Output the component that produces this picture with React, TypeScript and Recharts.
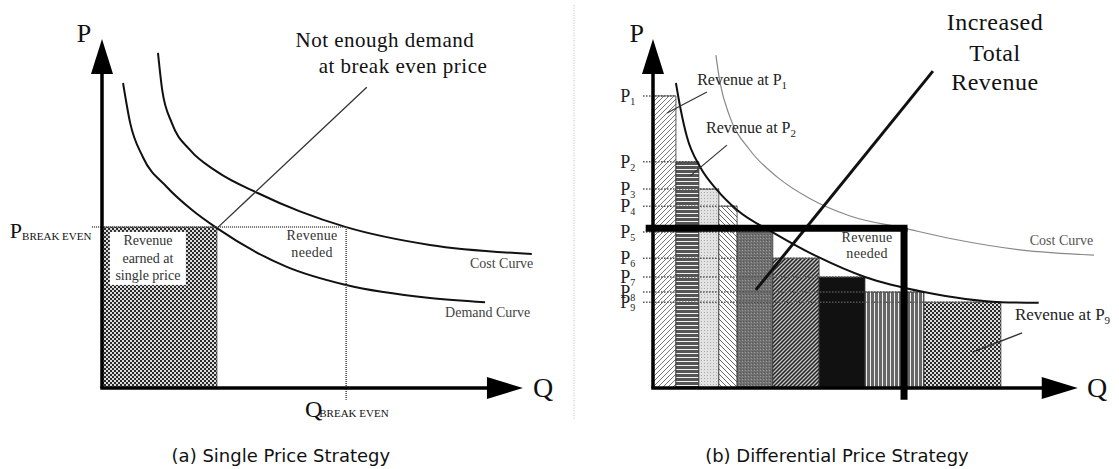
import React from 'react';
import {
  ComposedChart,
  Line,
  XAxis,
  YAxis,
  ReferenceArea,
  ReferenceLine,
  ReferenceDot,
} from 'recharts';

// ---- (a) single price strategy ----
const demandA = [
  { q: 5.0, p: 87.4 },
  { q: 6.7, p: 75.9 },
  { q: 9.7, p: 66.2 },
  { q: 15.4, p: 57.6 },
  { q: 21.4, p: 51.0 },
  { q: 27.3, p: 45.8 },
  { q: 43.9, p: 34.7 },
  { q: 58.0, p: 29.5 },
  { q: 77.9, p: 25.8 },
  { q: 91.0, p: 24.6 },
];
const costA = [
  { q: 13.3, p: 96.0 },
  { q: 14.3, p: 85.4 },
  { q: 16.6, p: 75.9 },
  { q: 20.9, p: 68.2 },
  { q: 27.3, p: 62.0 },
  { q: 37.1, p: 55.8 },
  { q: 47.0, p: 50.6 },
  { q: 58.0, p: 46.1 },
  { q: 77.9, p: 41.0 },
  { q: 102.1, p: 38.4 },
];
const breakEvenPrice = 46.1;
const singlePriceQty = 27.3;
const breakEvenQty = 58.0;

// ---- (b) differential price strategy ----
const stepQty = [0, 5.4, 10.8, 15.5, 19.8, 28.2, 39.1, 49.9, 63.8, 81.9];
const stepPrice = [83.7, 64.8, 57.0, 52.1, 44.7, 37.2, 31.8, 27.5, 24.6];
const stepLabels = ['1', '2', '3', '4', '5', '6', '7', '8', '9'];
const stepFills = [
  'url(#hatchUp)',
  'url(#hLines)',
  'url(#stipple)',
  'url(#hatchDown)',
  'url(#darkFine)',
  'url(#hatchDense)',
  '#111',
  'url(#vLines)',
  'url(#chk)',
];
const demandB = [
  { q: 5.4, p: 87.4 },
  { q: 6.4, p: 80.5 },
  { q: 8.0, p: 71.9 },
  { q: 11.1, p: 63.3 },
  { q: 15.1, p: 56.7 },
  { q: 19.8, p: 51.0 },
  { q: 28.5, p: 44.4 },
  { q: 39.1, p: 37.4 },
  { q: 49.9, p: 31.8 },
  { q: 63.8, p: 27.5 },
  { q: 81.9, p: 24.6 },
  { q: 90.8, p: 24.4 },
];
const costB = [
  { q: 14.8, p: 95.4 },
  { q: 15.8, p: 87.4 },
  { q: 18.1, p: 77.7 },
  { q: 22.8, p: 68.2 },
  { q: 29.2, p: 60.5 },
  { q: 36.9, p: 54.3 },
  { q: 46.4, p: 49.3 },
  { q: 59.1, p: 45.8 },
  { q: 70.6, p: 42.7 },
  { q: 86.4, p: 39.6 },
  { q: 103.8, p: 38.1 },
];
const neededPrice = 45.8;
const neededQty = 59.1;

const SERIF = '"Liberation Serif", "Times New Roman", serif';
const SANS = '"DejaVu Sans", Verdana, sans-serif';

const note = (
  key: string,
  q: number,
  p: number,
  draw: (cx: number, cy: number) => React.ReactNode,
) => (
  <ReferenceDot
    key={key}
    x={q}
    y={p}
    r={0}
    ifOverflow="visible"
    shape={(s: any) => <g>{draw(s.cx, s.cy)}</g>}
  />
);

const seg = (
  key: string,
  a: [number, number],
  b: [number, number],
  props: Record<string, any>,
) => (
  <ReferenceLine
    key={key}
    segment={[
      { x: a[0], y: a[1] },
      { x: b[0], y: b[1] },
    ]}
    ifOverflow="visible"
    {...props}
  />
);

const upArrow = (cx: number, cy: number) => (
  <polygon points={`${cx},${cy} ${cx - 11},${cy + 35} ${cx + 11},${cy + 35}`} fill="#000" />
);
const rightArrow = (cx: number, cy: number) => (
  <polygon points={`${cx},${cy} ${cx - 36},${cy - 11} ${cx - 36},${cy + 11}`} fill="#000" />
);

const curveProps = {
  type: 'monotone' as const,
  dataKey: 'p',
  dot: false,
  activeDot: false,
  isAnimationActive: false,
};

function Patterns() {
  return (
    <svg width={0} height={0} style={{ position: 'absolute' }}>
      <defs>
        <pattern id="chk" width={4} height={4} patternUnits="userSpaceOnUse">
          <rect width={4} height={4} fill="#dcdcdc" />
          <rect width={2} height={2} fill="#2a2a2a" />
          <rect x={2} y={2} width={2} height={2} fill="#2a2a2a" />
        </pattern>
        <pattern id="hatchUp" width={5} height={5} patternUnits="userSpaceOnUse">
          <rect width={5} height={5} fill="#fff" />
          <path d="M-1,1 l2,-2 M0,5 l5,-5 M4,6 l2,-2" stroke="#777" strokeWidth={1} />
        </pattern>
        <pattern id="hatchDown" width={5} height={5} patternUnits="userSpaceOnUse">
          <rect width={5} height={5} fill="#fff" />
          <path d="M-1,4 l2,2 M0,0 l5,5 M4,-1 l2,2" stroke="#666" strokeWidth={1} />
        </pattern>
        <pattern id="hatchDense" width={4} height={4} patternUnits="userSpaceOnUse">
          <rect width={4} height={4} fill="#c4c4c4" />
          <path d="M-1,1 l2,-2 M0,4 l4,-4 M3,5 l2,-2" stroke="#222" strokeWidth={1.5} />
        </pattern>
        <pattern id="hLines" width={6} height={4} patternUnits="userSpaceOnUse">
          <rect width={6} height={4} fill="#555" />
          <rect y={1} width={6} height={1} fill="#f2f2f2" />
        </pattern>
        <pattern id="vLines" width={4} height={6} patternUnits="userSpaceOnUse">
          <rect width={4} height={6} fill="#666" />
          <rect x={2} width={1} height={6} fill="#eee" />
        </pattern>
        <pattern id="stipple" width={3} height={3} patternUnits="userSpaceOnUse">
          <rect width={3} height={3} fill="#e2e2e2" />
          <rect width={1} height={1} fill="#aaa" />
        </pattern>
        <pattern id="darkFine" width={3} height={3} patternUnits="userSpaceOnUse">
          <rect width={3} height={3} fill="#707070" />
          <rect width={1} height={1} fill="#555" />
          <rect x={2} y={1} width={1} height={1} fill="#999" />
        </pattern>
      </defs>
    </svg>
  );
}

function SinglePrice() {
  return (
    <ComposedChart width={560} height={469} margin={{ top: 39, right: 16, bottom: 81, left: 102 }}>
      <XAxis type="number" dataKey="q" domain={[0, 105]} hide />
      <YAxis type="number" dataKey="p" domain={[0, 100]} hide />
      <ReferenceArea
        x1={0}
        x2={singlePriceQty}
        y1={0}
        y2={breakEvenPrice}
        fill="url(#chk)"
        fillOpacity={1}
        stroke="#333"
        strokeWidth={0.8}
        ifOverflow="visible"
      />
      <Line {...curveProps} data={demandA} stroke="#111" strokeWidth={2} />
      <Line {...curveProps} data={costA} stroke="#111" strokeWidth={2} />
      {seg('be-h', [-2.4, breakEvenPrice], [breakEvenQty, breakEvenPrice], {
        stroke: '#444',
        strokeWidth: 1.5,
        strokeDasharray: '1 1',
      })}
      {seg('be-v', [breakEvenQty, breakEvenPrice], [breakEvenQty, -3.4], {
        stroke: '#444',
        strokeWidth: 1.5,
        strokeDasharray: '1 1',
      })}
      {seg('lead', [27.6, breakEvenPrice], [62.9, 86.2], { stroke: '#333', strokeWidth: 1.3 })}
      {seg('yaxis', [0, 0], [0, 91], { stroke: '#000', strokeWidth: 3.5 })}
      {seg('xaxis', [0, 0], [92, 0], { stroke: '#000', strokeWidth: 3.5, strokeLinecap: 'square' })}
      {note('ya', 0, 100, upArrow)}
      {note('xa', 100, 0, rightArrow)}
      {note('P', -4.3, 99.1, (x, y) => (
        <text x={x} y={y} textAnchor="middle" fontFamily={SERIF} fontSize={26} fill="#111">P</text>
      ))}
      {note('Q', 102.4, -2.6, (x, y) => (
        <text x={x} y={y} fontFamily={SERIF} fontSize={28} fill="#111">Q</text>
      ))}
      {note('t1', 67.2, 97.7, (x, y) => (
        <text x={x} y={y} textAnchor="middle" fontFamily={SERIF} fontSize={21} letterSpacing={0.5} fill="#111">
          Not enough demand
        </text>
      ))}
      {note('t2', 71.5, 90.3, (x, y) => (
        <text x={x} y={y} textAnchor="middle" fontFamily={SERIF} fontSize={21} letterSpacing={0.5} fill="#111">
          at break even price
        </text>
      ))}
      {note('pbe', -21.9, 43.0, (x, y) => (
        <text x={x} y={y} fontFamily={SERIF} fill="#111">
          <tspan fontSize={22}>P</tspan>
          <tspan fontSize={11} dy={2}>BREAK EVEN</tspan>
        </text>
      ))}
      {note('qbe', 48.2, -8.3, (x, y) => (
        <text x={x} y={y} fontFamily={SERIF} fill="#111">
          <tspan fontSize={24}>Q</tspan>
          <tspan fontSize={11} dx={-3}>BREAK EVEN</tspan>
        </text>
      ))}
      {note('earned', 10.9, 41.0, (x, y) => (
        <g>
          <rect x={x - 38} y={y - 13} width={76} height={53} fill="#fff" />
          <text x={x} y={y} textAnchor="middle" fontFamily={SERIF} fontSize={14} fill="#333">
            <tspan x={x}>Revenue</tspan>
            <tspan x={x} dy={18}>earned at</tspan>
            <tspan x={x} dy={17}>single price</tspan>
          </text>
        </g>
      ))}
      {note('needed', 49.9, 42.4, (x, y) => (
        <text x={x} y={y} textAnchor="middle" fontFamily={SERIF} fontSize={14} letterSpacing={0.3} fill="#333">
          <tspan x={x}>Revenue</tspan>
          <tspan x={x} dy={17}>needed</tspan>
        </text>
      ))}
      {note('cost', 87.4, 34.4, (x, y) => (
        <text x={x} y={y} fontFamily={SERIF} fontSize={14} fill="#444">Cost Curve</text>
      ))}
      {note('demand', 81.5, 20.3, (x, y) => (
        <text x={x} y={y} fontFamily={SERIF} fontSize={14} fill="#444">Demand Curve</text>
      ))}
      {note('cap', 42.5, -21.2, (x, y) => (
        <text x={x} y={y} textAnchor="middle" fontFamily={SANS} fontSize={18} fill="#111">
          (a) Single Price Strategy
        </text>
      ))}
    </ComposedChart>
  );
}

function DifferentialPrice() {
  return (
    <ComposedChart width={559} height={469} margin={{ top: 39, right: 20, bottom: 81, left: 93 }}>
      <XAxis type="number" dataKey="q" domain={[0, 105]} hide />
      <YAxis type="number" dataKey="p" domain={[0, 100]} hide />
      {seg('sep', [-18.6, 109.7], [-18.6, -9.2], {
        stroke: '#bbb',
        strokeWidth: 1,
        strokeDasharray: '1 1.5',
      })}
      {stepPrice.map((p, i) => (
        <ReferenceArea
          key={`bar${i}`}
          x1={stepQty[i]}
          x2={stepQty[i + 1]}
          y1={0}
          y2={p}
          fill={stepFills[i]}
          fillOpacity={1}
          stroke="#333"
          strokeWidth={0.8}
          ifOverflow="visible"
        />
      ))}
      {stepPrice.map((p, i) =>
        seg(`lvl${i}`, [-2.35, p], [stepQty[i + 1], p], {
          stroke: '#555',
          strokeWidth: 1.5,
          strokeDasharray: '1.5 1.5',
        }),
      )}
      <Line {...curveProps} data={costB} stroke="#888" strokeWidth={1.2} />
      <Line {...curveProps} data={demandB} stroke="#111" strokeWidth={2} />
      {seg('inc', [24.2, 28.1], [65.9, 90.8], { stroke: '#111', strokeWidth: 3 })}
      {seg('l1', [12.7, 84.8], [3.3, 78.8], { stroke: '#333', strokeWidth: 1.2 })}
      {seg('l2', [17.4, 69.6], [8.7, 60.7], { stroke: '#333', strokeWidth: 1.2 })}
      {seg('l9', [86.9, 15.8], [75.3, 10.3], { stroke: '#333', strokeWidth: 1.5 })}
      {seg('need-h', [-0.9, neededPrice], [neededQty, neededPrice], {
        stroke: '#000',
        strokeWidth: 7,
        strokeLinecap: 'square',
      })}
      {seg('need-v', [neededQty, neededPrice], [neededQty, -3.4], { stroke: '#000', strokeWidth: 7 })}
      {seg('yaxis', [0, 0], [0, 91], { stroke: '#000', strokeWidth: 3.5 })}
      {seg('xaxis', [0, 0], [92, 0], { stroke: '#000', strokeWidth: 3.5, strokeLinecap: 'square' })}
      {note('ya', 0, 100, upArrow)}
      {note('xa', 100, 0, rightArrow)}
      {note('P', -3.8, 99.1, (x, y) => (
        <text x={x} y={y} textAnchor="middle" fontFamily={SERIF} fontSize={26} fill="#111">P</text>
      ))}
      {note('Q', 102.2, -2.6, (x, y) => (
        <text x={x} y={y} fontFamily={SERIF} fontSize={28} fill="#111">Q</text>
      ))}
      {stepPrice.map((p, i) =>
        note(`pl${i}`, -4.2, p, (x, y) => (
          <text x={x} y={y + 6} textAnchor="end" fontFamily={SERIF} fill="#222">
            <tspan fontSize={18}>P</tspan>
            <tspan fontSize={10} dy={3}>{stepLabels[i]}</tspan>
          </text>
        )),
      )}
      {note('r1', 10.4, 86.8, (x, y) => (
        <text x={x} y={y} fontFamily={SERIF} fill="#222">
          <tspan fontSize={16}>Revenue at P</tspan>
          <tspan fontSize={11} dy={4}>1</tspan>
        </text>
      ))}
      {note('r2', 12.5, 73.1, (x, y) => (
        <text x={x} y={y} fontFamily={SERIF} fill="#222">
          <tspan fontSize={16}>Revenue at P</tspan>
          <tspan fontSize={11} dy={4}>2</tspan>
        </text>
      ))}
      {note('r9', 85.2, 19.5, (x, y) => (
        <text x={x} y={y} fontFamily={SERIF} fill="#222">
          <tspan fontSize={17}>Revenue at P</tspan>
          <tspan fontSize={11} dy={4}>9</tspan>
        </text>
      ))}
      {note('inc1', 80.5, 102.6, (x, y) => (
        <text x={x} y={y} textAnchor="middle" fontFamily={SERIF} fontSize={24} letterSpacing={0.5} fill="#111">
          <tspan x={x}>Increased</tspan>
          <tspan x={x} dy={31}>Total</tspan>
          <tspan x={x} dy={29}>Revenue</tspan>
        </text>
      ))}
      {note('needed', 50.4, 41.8, (x, y) => (
        <text x={x} y={y} textAnchor="middle" fontFamily={SERIF} fontSize={14} letterSpacing={0.3} fill="#333">
          <tspan x={x}>Revenue</tspan>
          <tspan x={x} dy={16}>needed</tspan>
        </text>
      ))}
      {note('cost', 88.7, 41.0, (x, y) => (
        <text x={x} y={y} fontFamily={SERIF} fontSize={14} fill="#555">Cost Curve</text>
      ))}
      {note('cap', 43.3, -21.2, (x, y) => (
        <text x={x} y={y} textAnchor="middle" fontFamily={SANS} fontSize={18} fill="#111">
          (b) Differential Price Strategy
        </text>
      ))}
    </ComposedChart>
  );
}

export default function App() {
  return (
    <div
      style={{
        position: 'absolute',
        left: 0,
        top: 0,
        width: 1119,
        height: 469,
        background: '#fff',
        display: 'flex',
      }}
    >
      <Patterns />
      <SinglePrice />
      <DifferentialPrice />
    </div>
  );
}
